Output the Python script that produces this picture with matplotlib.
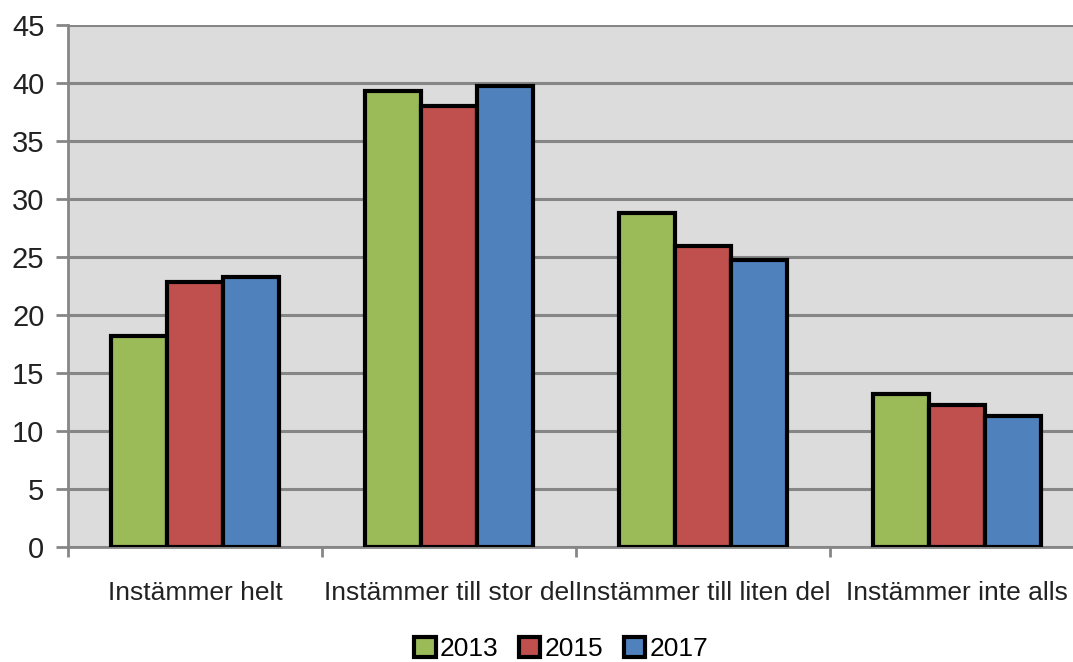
import numpy as np
import matplotlib
matplotlib.use("Agg")
import matplotlib.pyplot as plt

categories = ["Instämmer helt", "Instämmer till stor del",
              "Instämmer till liten del", "Instämmer inte alls"]
years = ["2013", "2015", "2017"]
v2013 = [18.2, 39.3, 28.8, 13.2]
v2015 = [22.9, 38.0, 26.0, 12.3]
v2017 = [23.3, 39.8, 24.8, 11.3]
colors = ["#9bbb59", "#c0504d", "#4f81bd"]

plt.rcParams['font.family'] = ['Liberation Sans', 'DejaVu Sans']

fig = plt.figure(figsize=(10.73, 6.62), dpi=100)
ax = fig.add_axes([0.0634, 0.173, 0.947, 0.789])
ax.set_facecolor("#dcdcdc")

x = np.arange(len(categories))
w = 0.22
for i, (vals, lab) in enumerate(zip([v2013, v2015, v2017], years)):
    ax.bar(x + (i - 1) * w, vals, w, color=colors[i], edgecolor="black",
           linewidth=3, label=lab, zorder=3)

ax.set_xlim(-0.5, 3.5)
ax.set_ylim(0, 45)
ax.set_yticks(range(0, 46, 5))
ax.yaxis.grid(True, color="#868686", linewidth=2.2, zorder=0)
ax.set_xticks(x)
ax.set_xticklabels(categories, fontsize=19, color="#222222")
ax.set_xticks(np.arange(-0.5, 4, 1), minor=True)
ax.tick_params(axis="x", which="major", length=0, pad=24)
ax.tick_params(axis="x", which="minor", length=7, width=2, color="#868686", direction="out")
ax.tick_params(axis="y", length=9, width=2, color="#868686", labelsize=21, pad=8,
               labelcolor="#222222")
for s in ["top", "right"]:
    ax.spines[s].set_visible(False)
ax.spines["left"].set_color("#868686")
ax.spines["left"].set_linewidth(2)
ax.spines["bottom"].set_color("#868686")
ax.spines["bottom"].set_linewidth(2)

leg = fig.legend(loc="center", ncol=3, bbox_to_anchor=(0.523, 0.02), frameon=False,
                 fontsize=19, handlelength=0.8, handleheight=0.8, handletextpad=0.15,
                 columnspacing=0.8)

fig.savefig("out.png", dpi=100)
